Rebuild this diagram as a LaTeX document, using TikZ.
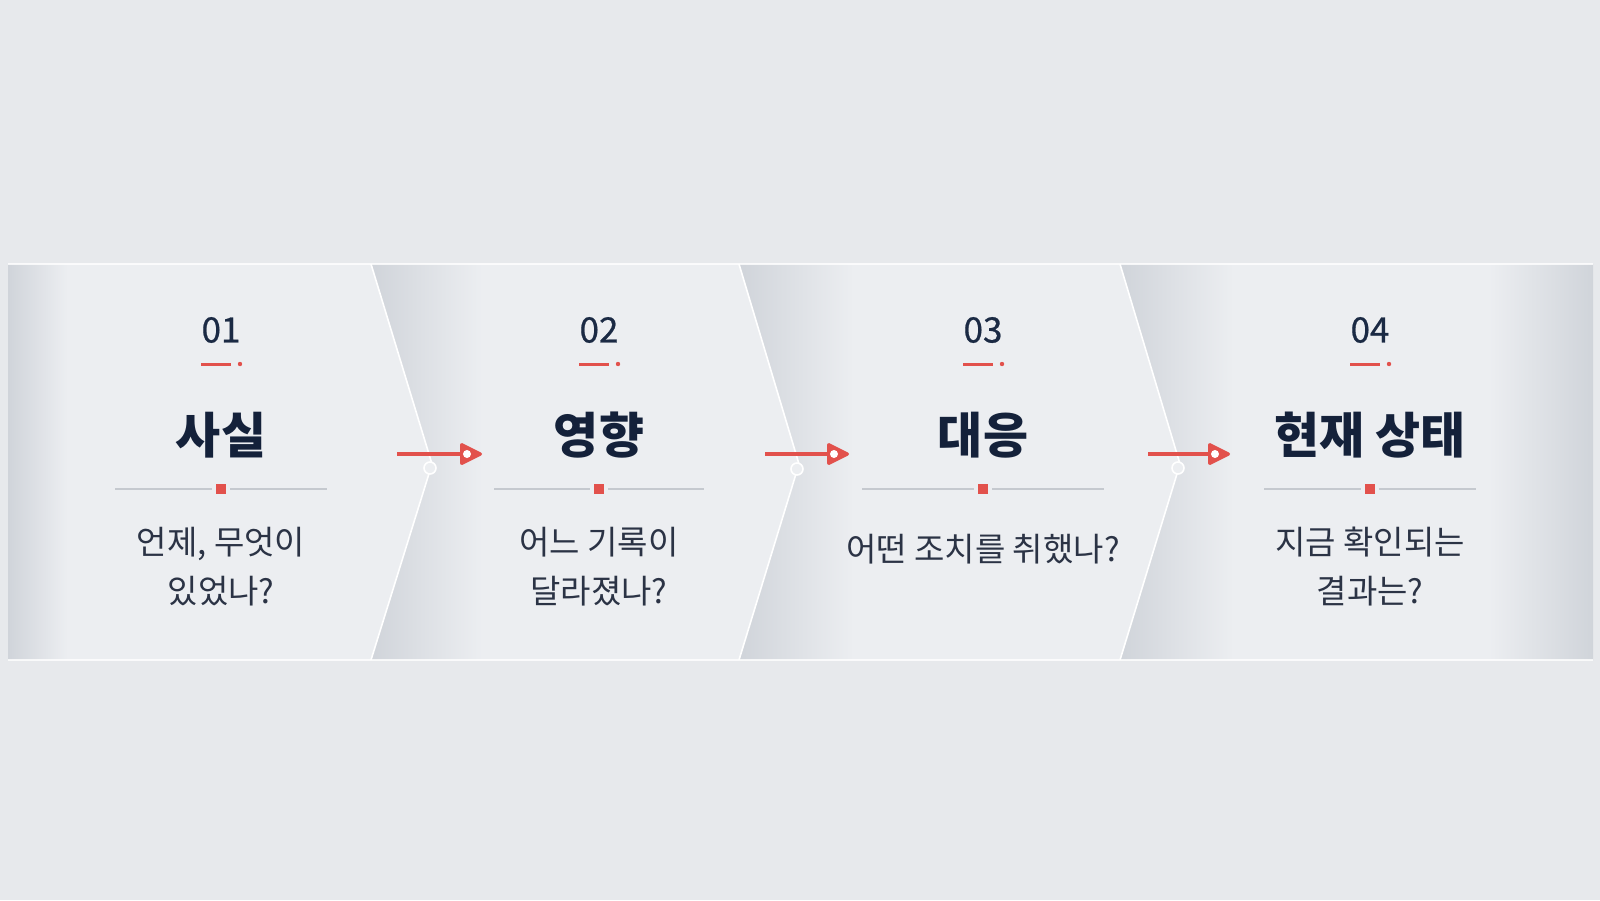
\documentclass[tikz,border=0pt]{standalone}
\usepackage{fontspec}
\setmainfont{Noto Sans CJK KR}
\usepackage{tikz}
\usetikzlibrary{arrows.meta,positioning}

\definecolor{bgcol}{HTML}{E7E9EC}
\definecolor{pdark}{HTML}{D0D4DA}
\definecolor{plight}{HTML}{ECEEF1}
\definecolor{accent}{HTML}{E2514C}
\definecolor{sepcol}{HTML}{C5C9CF}
\definecolor{numcol}{HTML}{1B2A44}
\definecolor{titlecol}{HTML}{14213A}
\definecolor{bodycol}{HTML}{2B3345}

\pgfdeclarehorizontalshading{panelfade}{100bp}{color(0bp)=(pdark); color(25bp)=(pdark); color(38bp)=(plight); color(100bp)=(plight)}
\pgfdeclarehorizontalshading{firstfade}{100bp}{color(0bp)=(pdark); color(25bp)=(pdark); color(32bp)=(plight); color(100bp)=(plight)}
\pgfdeclarehorizontalshading{lastfade}{100bp}{color(0bp)=(pdark); color(25bp)=(pdark); color(37bp)=(plight); color(64bp)=(plight); color(75bp)=(pdark); color(100bp)=(pdark)}

\tikzset{
  numtxt/.style={inner sep=0pt, text=numcol, font=\fontsize{35}{40}\selectfont\addfontfeature{FakeBold=0.6}},
  titletxt/.style={inner sep=0pt, text=titlecol, font=\fontsize{49}{56}\selectfont\bfseries},
  bodytxt/.style={inner sep=0pt, text=bodycol, align=center, font=\fontsize{33}{49}\selectfont},
  divline/.style={draw=white, line width=1.6pt, line join=round},
  sepline/.style={draw=sepcol, line width=1.6pt},
  dashmark/.style={draw=accent, line width=3pt},
  sqmark/.style={fill=accent, minimum size=10pt, inner sep=0pt},
  ring/.style={circle, draw=white, line width=1.6pt, fill=plight, minimum size=12pt, inner sep=0pt},
  tipdot/.style={circle, fill=white, minimum size=8pt, inner sep=0pt},
  flowarrow/.style={draw=accent, line width=3.2pt, -{Triangle[round,length=24pt,width=23pt]}},
}

\begin{document}
\begin{tikzpicture}[x=1pt,y=-1pt]
  \useasboundingbox[fill=bgcol] (0,0) rectangle (1600,900);

  % band of four panels
  \shade[shading=firstfade] (8,264) -- (371,264) -- (432,464) -- (371,660) -- (8,660) -- cycle;
  \shade[shading=panelfade] (371,264) -- (739,264) -- (799,464) -- (739,660) -- (371,660) -- (432,464) -- cycle;
  \shade[shading=panelfade] (739,264) -- (1120,264) -- (1180,464) -- (1120,660) -- (739,660) -- (799,464) -- cycle;
  \shade[shading=lastfade] (1120,264) -- (1593,264) -- (1593,660) -- (1120,660) -- (1180,464) -- cycle;
  \draw[white, line width=1.2pt, opacity=0.8] (8,264) -- (1593,264) (8,660) -- (1593,660);

  % dividers
  \draw[divline] (371,264) -- (432,464) -- (371,660);
  \draw[divline] (739,264) -- (799,464) -- (739,660);
  \draw[divline] (1120,264) -- (1180,464) -- (1120,660);
  \node[ring] (k1) at (430,468) {};
  \node[ring] (k2) at (797,469) {};
  \node[ring] (k3) at (1178,468) {};

  % panels
  \foreach \i/\x/\half/\by/\num/\title/\body in {
      1/221/106/567/01/사실/{언제, 무엇이\\있었나?},
      2/599/105/567/02/영향/{어느 기록이\\달라졌나?},
      3/983/121/549/03/대응/{어떤 조치를 취했나?},
      4/1370/106/567/04/현재 상태/{지금 확인되는\\결과는?}} {
    \node[numtxt] (n\i) at (\x,330) {\num};
    \draw[dashmark] ({\x-20},364) -- ({\x+10},364);
    \fill[accent] ({\x+19},364) circle (2.2);
    \node[titletxt] (t\i) at (\x,435) {\title};
    \draw[sepline] ({\x-\half},489) -- ({\x-9},489) ({\x+9},489) -- ({\x+\half},489);
    \node[sqmark] (q\i) at (\x,489) {};
    \node[bodytxt] (b\i) at (\x,\by) {\body};
  }

  % arrows between panels
  \coordinate (s1) at (397,454); \coordinate (e1) at (482,454);
  \coordinate (s2) at (765,454); \coordinate (e2) at (849,454);
  \coordinate (s3) at (1148,454); \coordinate (e3) at (1230,454);
  \foreach \i in {1,2,3} {
    \draw[flowarrow] (s\i) -- (e\i);
    \path (e\i) ++(-15,0) node[tipdot] {};
  }
\end{tikzpicture}
\end{document}
